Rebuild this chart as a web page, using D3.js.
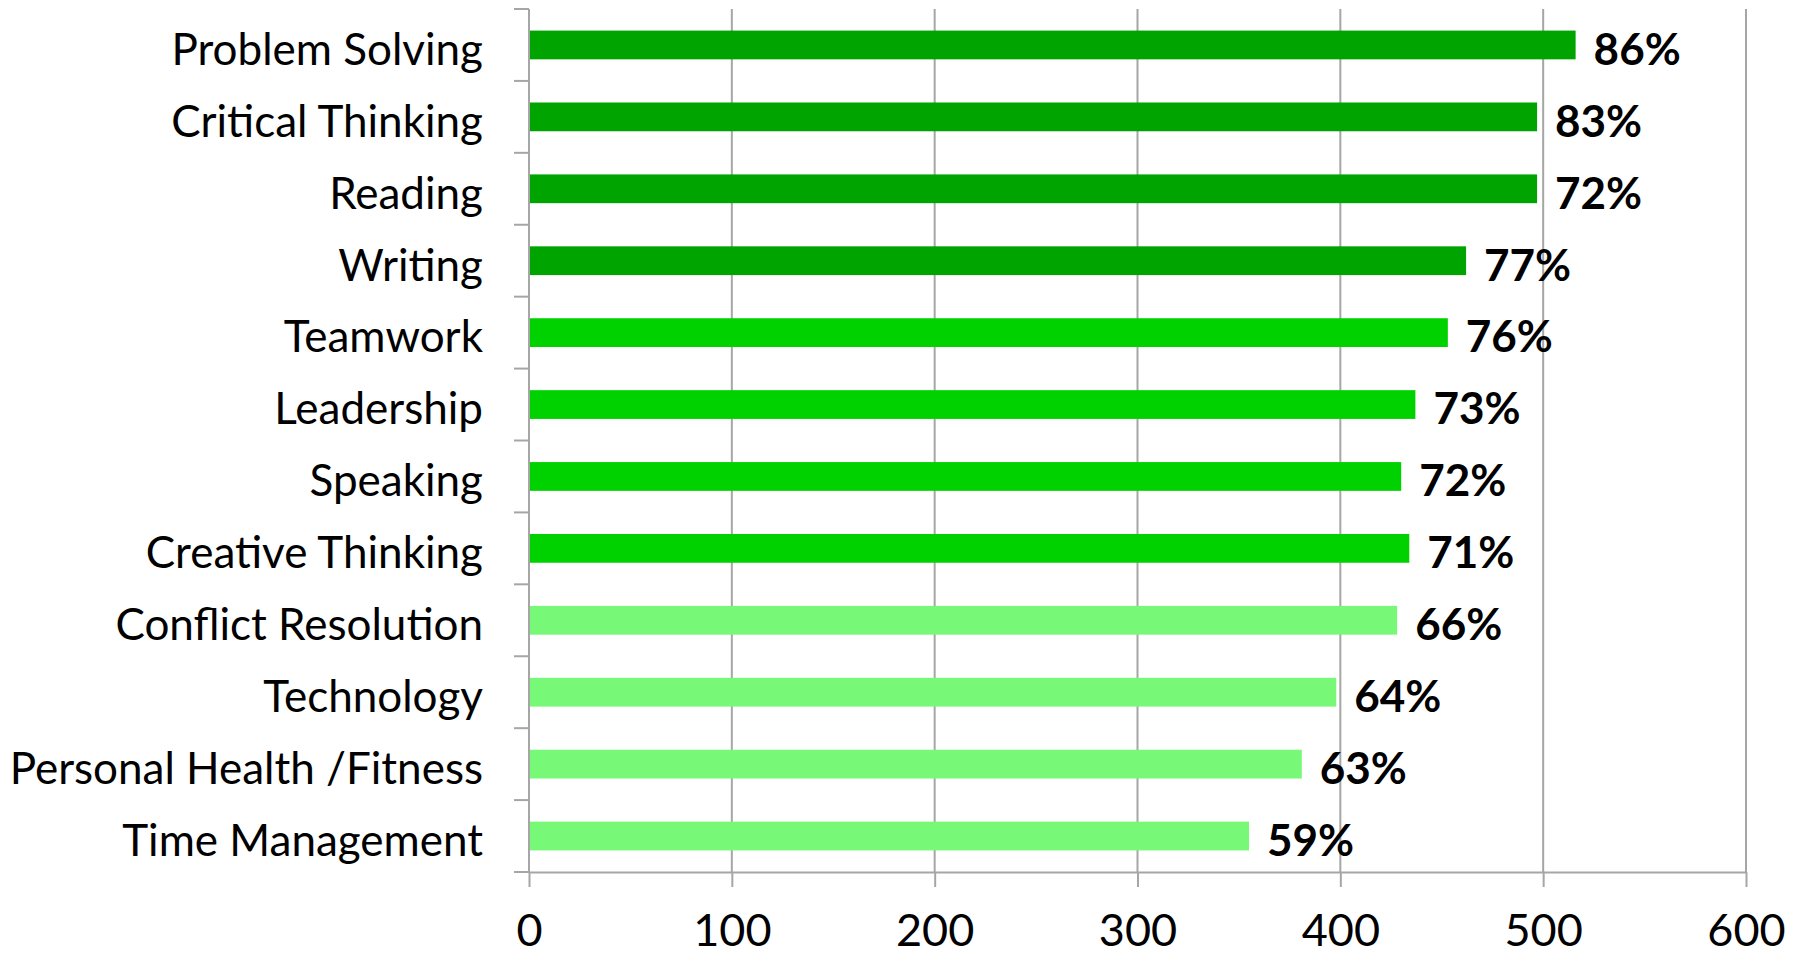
<!DOCTYPE html>
<html>
<head>
<meta charset="utf-8">
<script src="https://cdn.jsdelivr.net/npm/d3@7"></script>
<style>
  html, body { margin: 0; padding: 0; background: #ffffff; }
  svg { display: block; }
  text { font-family: Lato, "Open Sans", sans-serif; fill: #000; }
</style>
</head>
<body>
<svg id="chart" width="1800" height="956"></svg>
<script>
const categories = ["Problem Solving", "Critical Thinking", "Reading", "Writing", "Teamwork",
  "Leadership", "Speaking", "Creative Thinking", "Conflict Resolution", "Technology",
  "Personal Health /Fitness", "Time Management"];
const values = [516, 497, 497, 462, 453, 437, 430, 434, 428, 398, 381, 355];
const percentLabels = ["86%", "83%", "72%", "77%", "76%", "73%", "72%", "71%", "66%", "64%", "63%", "59%"];
const groups = [0, 0, 0, 0, 1, 1, 1, 1, 2, 2, 2, 2];
const groupColors = ["#00A400", "#00D200", "#77F977"];
const xTicks = [0, 100, 200, 300, 400, 500, 600];

const svg = d3.select("#chart");
const plotLeft = 529, plotRight = 1746, plotTop = 9, plotBottom = 872;

const x = d3.scaleLinear().domain([0, 600]).range([plotLeft, plotRight]);
const y = d3.scaleBand().domain(categories).range([plotTop, plotBottom]).paddingInner(0.6).paddingOuter(0.3);

const gridColor = "#a6a6a6";

// vertical gridlines
svg.append("g").selectAll("line").data(xTicks.slice(1)).join("line")
  .attr("x1", d => x(d)).attr("x2", d => x(d))
  .attr("y1", plotTop).attr("y2", plotBottom)
  .attr("stroke", gridColor).attr("stroke-width", 2);

// bars
svg.append("g").selectAll("rect").data(categories).join("rect")
  .attr("x", x(0))
  .attr("y", d => y(d))
  .attr("width", (d, i) => x(values[i]) - x(0))
  .attr("height", y.bandwidth())
  .attr("fill", (d, i) => groupColors[groups[i]]);

// x axis
const xAxis = svg.append("g").attr("transform", `translate(0,${plotBottom})`)
  .call(d3.axisBottom(x).tickValues(xTicks).tickSize(15).tickPadding(27).tickSizeOuter(0));
xAxis.select(".domain").attr("stroke", gridColor).attr("stroke-width", 2);
xAxis.selectAll(".tick line").attr("stroke", gridColor).attr("stroke-width", 2);
xAxis.selectAll(".tick text").attr("font-size", 45).attr("font-family", "Lato, sans-serif").attr("fill", "#000");

// y axis
const bandTicks = d3.range(categories.length + 1).map(i => plotTop + i * y.step());
svg.append("line").attr("x1", plotLeft).attr("x2", plotLeft).attr("y1", plotTop).attr("y2", plotBottom)
  .attr("stroke", gridColor).attr("stroke-width", 2);
svg.append("g").selectAll("line").data(bandTicks).join("line")
  .attr("x1", plotLeft - 15).attr("x2", plotLeft)
  .attr("y1", d => d).attr("y2", d => d)
  .attr("stroke", gridColor).attr("stroke-width", 2);

// category labels
svg.append("g").selectAll("text").data(categories).join("text")
  .attr("x", plotLeft - 46)
  .attr("y", d => y(d) + y.bandwidth() / 2)
  .attr("dy", "0.45em")
  .attr("text-anchor", "end")
  .attr("font-size", 44)
  .text(d => d);

// value labels
svg.append("g").selectAll("text").data(categories).join("text")
  .attr("x", (d, i) => x(values[i]) + 18)
  .attr("y", d => y(d) + y.bandwidth() / 2)
  .attr("dy", "0.45em")
  .attr("font-size", 44)
  .attr("font-weight", "bold")
  .text((d, i) => percentLabels[i]);
</script>
</body>
</html>
